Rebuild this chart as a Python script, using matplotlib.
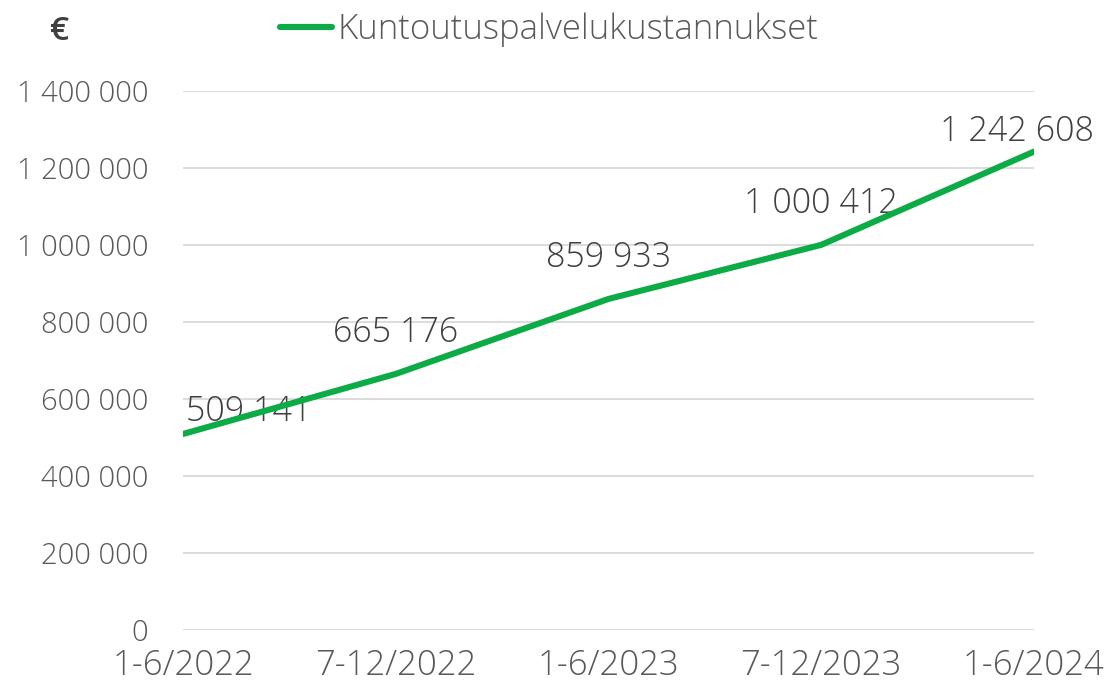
import matplotlib
matplotlib.use("Agg")
import matplotlib.pyplot as plt
from matplotlib.ticker import FuncFormatter

# data
periods = ["1-6/2022", "7-12/2022", "1-6/2023", "7-12/2023", "1-6/2024"]
costs = [509141, 665176, 859933, 1000412, 1242608]
series_name = "Kuntoutuspalvelukustannukset"
y_ticks = [0, 200000, 400000, 600000, 800000, 1000000, 1200000, 1400000]

green = "#0dab45"
text_grey = "#595959"
grid_grey = "#d9d9d9"

plt.rcParams["font.family"] = ["Open Sans", "DejaVu Sans"]
plt.rcParams["font.weight"] = "light"


def fmt_space(v, pos=None):
    # finnish thousand separator is a space
    return "{:,.0f}".format(v).replace(",", " ")


fig = plt.figure(figsize=(11.14, 6.92), dpi=100)
ax = fig.add_axes([0.1643, 0.0896, 0.7639, 0.7789])

x = list(range(len(periods)))
line, = ax.plot(x, costs, color=green, lw=4.4, solid_capstyle="round",
                solid_joinstyle="round", zorder=3, label=series_name)

# data labels above each point, edge labels pulled inside the plot
for i, v in enumerate(costs):
    if i == 0:
        ha, dx, dy = "left", 3, 22
    elif i == len(costs) - 1:
        ha, dx, dy = "right", 60, 20
    else:
        ha, dx, dy = "center", 0, 41
    ax.annotate(fmt_space(v), (x[i], v), xytext=(dx, dy), textcoords="offset pixels",
                ha=ha, va="center", fontsize=24.5, color="#404040", zorder=2,
                annotation_clip=False)

ax.set_xlim(0, len(periods) - 1)
ax.set_ylim(0, 1400000)
ax.set_yticks(y_ticks)
ax.yaxis.set_major_formatter(FuncFormatter(fmt_space))
ax.set_xticks(x)
ax.set_xticklabels(periods)
ax.tick_params(axis="y", length=0, pad=25, labelsize=21, labelcolor=text_grey)
ax.tick_params(axis="x", length=0, pad=13, labelsize=25, labelcolor=text_grey)
ax.grid(axis="y", color=grid_grey, lw=1.3, zorder=0)
ax.set_axisbelow(True)
for s in ax.spines.values():
    s.set_visible(False)

# euro unit label and legend at the top
fig.text(60 / 1114, 1 - 31 / 692, "€", fontsize=24, color="#404040",
         fontweight="semibold", ha="center", va="center")
leg = fig.legend(handles=[line], loc="center left",
                 bbox_to_anchor=(266 / 1114, 1 - 30 / 692), frameon=False,
                 fontsize=25, handlelength=1.5, handletextpad=0.15,
                 labelcolor=text_grey, borderaxespad=0)

fig.savefig("out.png", dpi=100)
